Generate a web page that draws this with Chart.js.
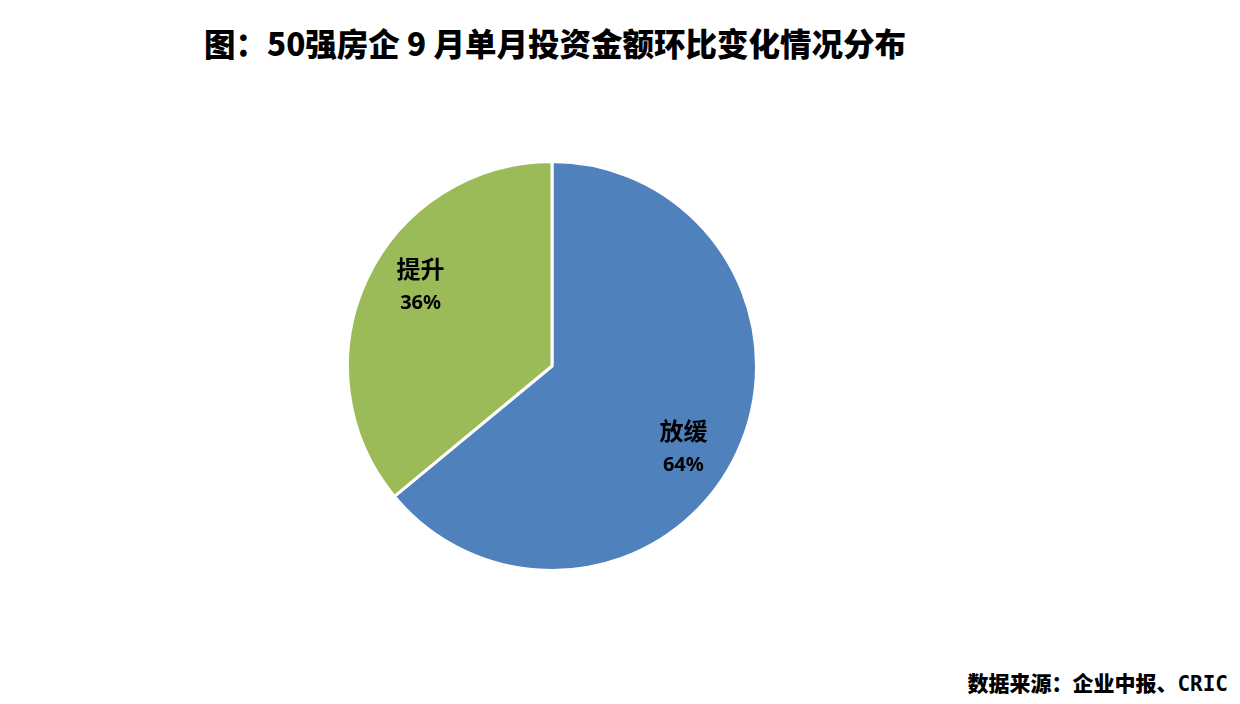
<!DOCTYPE html>
<html>
<head>
<meta charset="utf-8">
<script src="https://cdn.jsdelivr.net/npm/chart.js@4.4.0/dist/chart.umd.min.js"></script>
<style>
  html, body { margin: 0; padding: 0; background: #ffffff; }
  body { width: 1240px; height: 704px; position: relative; overflow: hidden; font-family: "Noto Sans CJK SC", "Noto Sans", sans-serif; }
  .title { position: absolute; left: 0; width: 1110px; top: 19px; text-align: center; font-size: 31.5px; font-weight: 900; color: #000; }
  .source { position: absolute; right: 12px; top: 667px; font-size: 21px; font-weight: 900; color: #000;
            font-family: "DejaVu Sans Mono", "Noto Sans CJK SC", sans-serif; }
  .pie { position: absolute; left: 346px; top: 160px; width: 412px; height: 412px; }
</style>
</head>
<body>
<div class="title">图：50强房企 9 月单月投资金额环比变化情况分布</div>
<div class="pie"><canvas id="chart-pie"></canvas></div>
<div class="source">数据来源：企业中报、CRIC</div>
<script>
const labels = ["放缓", "提升"];
const shares = [64, 36];
const colors = ["#4f81bd", "#9bbb59"];

// 扇区内的类别名和百分比
const sliceLabels = {
    id: "sliceLabels",
    afterDatasetsDraw(chart) {
        const ctx = chart.ctx;
        const meta = chart.getDatasetMeta(0);
        meta.data.forEach((arc, i) => {
            const p = arc.getProps(["x", "y", "startAngle", "endAngle", "outerRadius"], true);
            const mid = (p.startAngle + p.endAngle) / 2;
            const cx = p.x + Math.cos(mid) * p.outerRadius * 0.71;
            const cy = p.y + Math.sin(mid) * p.outerRadius * 0.93;
            ctx.save();
            ctx.fillStyle = "#000";
            ctx.textAlign = "center";
            ctx.textBaseline = "middle";
            ctx.font = "bold 24px 'Noto Sans CJK SC'";
            ctx.fillText(labels[i], cx, cy - 16);
            ctx.font = "bold 20px 'Noto Sans', 'Noto Sans CJK SC'";
            ctx.fillText(shares[i] + "%", cx, cy + 18);
            ctx.restore();
        });
    }
};

new Chart(document.getElementById("chart-pie"), {
    type: "pie",
    data: {
        labels: labels,
        datasets: [{
            data: shares,
            backgroundColor: colors,
            borderColor: "#ffffff",
            borderWidth: 3
        }]
    },
    options: {
        responsive: true,
        maintainAspectRatio: false,
        animation: false,
        layout: { padding: 0 },
        plugins: {
            legend: { display: false },
            tooltip: { enabled: false }
        }
    },
    plugins: [sliceLabels]
});
</script>
</body>
</html>
